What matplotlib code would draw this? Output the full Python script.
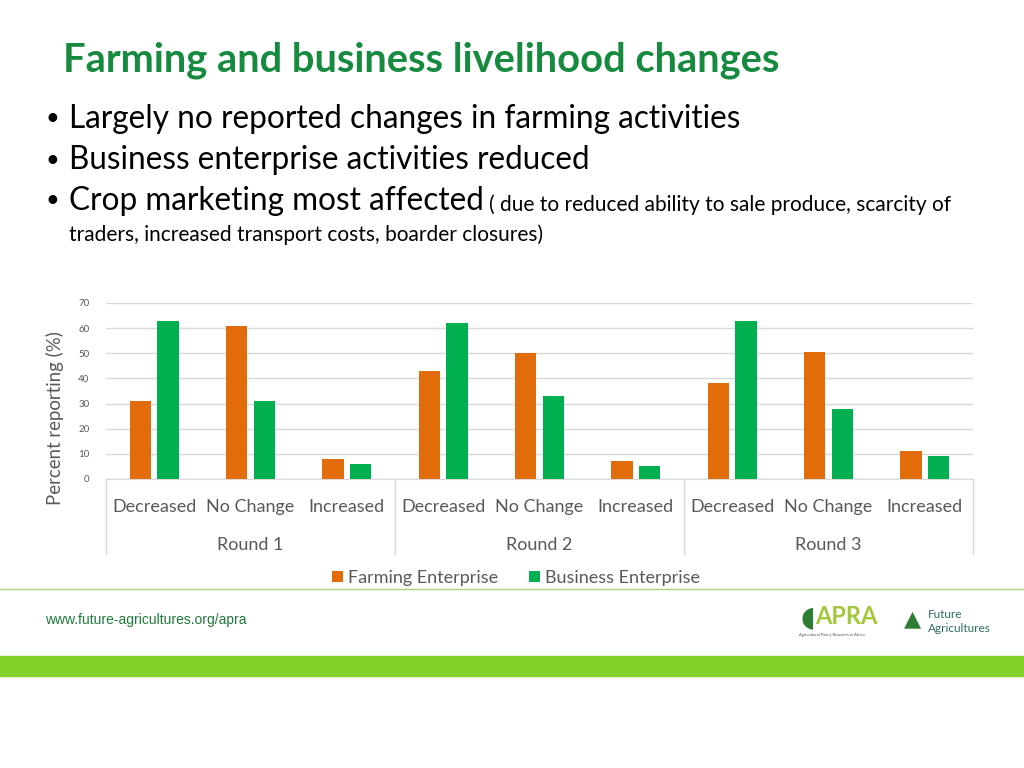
import matplotlib
matplotlib.use("Agg")
import matplotlib.pyplot as plt
from matplotlib.patches import Rectangle
import numpy as np

plt.rcParams['font.family'] = ['Lato', 'DejaVu Sans']

rounds = ["Round 1", "Round 2", "Round 3"]
changes = ["Decreased", "No Change", "Increased"]
farming = [31, 61, 8, 43, 50, 7, 38, 50.5, 11.3]
business = [63, 31, 6, 62, 33, 5, 62.8, 28, 9.1]

ORANGE = "#E36C0A"
GREEN = "#00B050"
TITLE_GREEN = "#168A3E"
GREY_TXT = "#595959"

W, H = 1024, 768
fig = plt.figure(figsize=(10.24, 7.68), dpi=100)


def fx(px):
    return px / W


def fy(py):
    return 1 - py / H


# header text
fig.text(fx(63), fy(60), "Farming and business livelihood changes", color=TITLE_GREEN,
         fontsize=28.7, fontweight="bold", va="center", ha="left")
bullets = ["Largely no reported changes in farming activities",
           "Business enterprise activities reduced",
           "Crop marketing most affected"]
for i, b in enumerate(bullets):
    yy = fy(119 + 41 * i)
    fig.text(fx(45), yy, "\u2022", fontsize=17, va="center", ha="left", color="black")
    fig.text(fx(69), yy, b, fontsize=22.7, va="center", ha="left", color="black")
fig.text(fx(489), fy(205), "( due to reduced ability to sale produce, scarcity of",
         fontsize=15, va="center", ha="left", color="black")
fig.text(fx(69), fy(235), "traders, increased transport costs, boarder closures)",
         fontsize=15, va="center", ha="left", color="black")

# chart
ax = fig.add_axes([fx(106), fy(479), fx(973) - fx(106), (479 - 303) / H])
x = np.arange(len(farming))
bw = 0.223
off = 0.143
ax.bar(x - off, farming, bw, color=ORANGE, label="Farming Enterprise", zorder=3)
ax.bar(x + off, business, bw, color=GREEN, label="Business Enterprise", zorder=3)
ax.set_xlim(-0.5, 8.5)
ax.set_ylim(0, 70)
ax.set_yticks(range(0, 71, 10))
ax.yaxis.grid(True, color="#D9D9D9", linewidth=1)
ax.set_axisbelow(True)
for s in ["top", "right", "left"]:
    ax.spines[s].set_visible(False)
ax.spines["bottom"].set_color("#D9D9D9")
ax.tick_params(axis="y", length=0, labelsize=7, labelcolor=GREY_TXT, pad=12)
ax.set_xticks([])
fig.text(fx(55), fy(418), "Percent reporting (%)", rotation=90, fontsize=13.4,
         color=GREY_TXT, va="center", ha="center")

# category labels and round labels
for i in range(len(farming)):
    ax.text(x[i], -11.3, changes[i % 3], ha="center", va="center", fontsize=13,
            color=GREY_TXT, clip_on=False)
for g, r in enumerate(rounds):
    ax.text(3 * g + 1, -26.3, r, ha="center", va="center", fontsize=13,
            color=GREY_TXT, clip_on=False)
for b in [-0.5, 2.5, 5.5, 8.5]:
    ax.plot([b, b], [0, -30], color="#D9D9D9", linewidth=1, clip_on=False)

leg = fig.legend(loc="center", bbox_to_anchor=(fx(516), fy(578)), ncol=2, frameon=False,
                 fontsize=13, handlelength=0.6, handleheight=0.6, handletextpad=0.3,
                 columnspacing=1.7)
for t in leg.get_texts():
    t.set_color(GREY_TXT)

# footer
fig.add_artist(plt.Line2D([0, 1], [fy(589), fy(589)], color="#A6D66E", linewidth=1))
fig.text(fx(45), fy(620), "www.future-agricultures.org/apra", fontsize=10,
         family="Liberation Sans", color="#1F7A3A", va="center", ha="left")
fig.add_artist(Rectangle((0, fy(676)), 1, (676 - 656) / H, color="#84D12C",
                         transform=fig.transFigure))

# logos (text approximations)
fig.text(fx(808), fy(617), "\u25D6", fontsize=20, color="#2E7D32", va="center", ha="center")
fig.text(fx(846), fy(617), "APRA", fontsize=17, fontweight="bold", color="#A3C93A",
         va="center", ha="center")
fig.text(fx(832), fy(635), "Agricultural Policy Research in Africa", fontsize=3,
         color="#555555", va="center", ha="center")
fig.text(fx(913), fy(619), "\u25B2", fontsize=16, color="#2E7D32", va="center", ha="center")
fig.text(fx(928), fy(614), "Future", fontsize=8.5, color="#2F6F5F", va="center", ha="left")
fig.text(fx(928), fy(628), "Agricultures", fontsize=8.5, color="#2F6F5F", va="center", ha="left")

fig.savefig("out.png", dpi=100)
